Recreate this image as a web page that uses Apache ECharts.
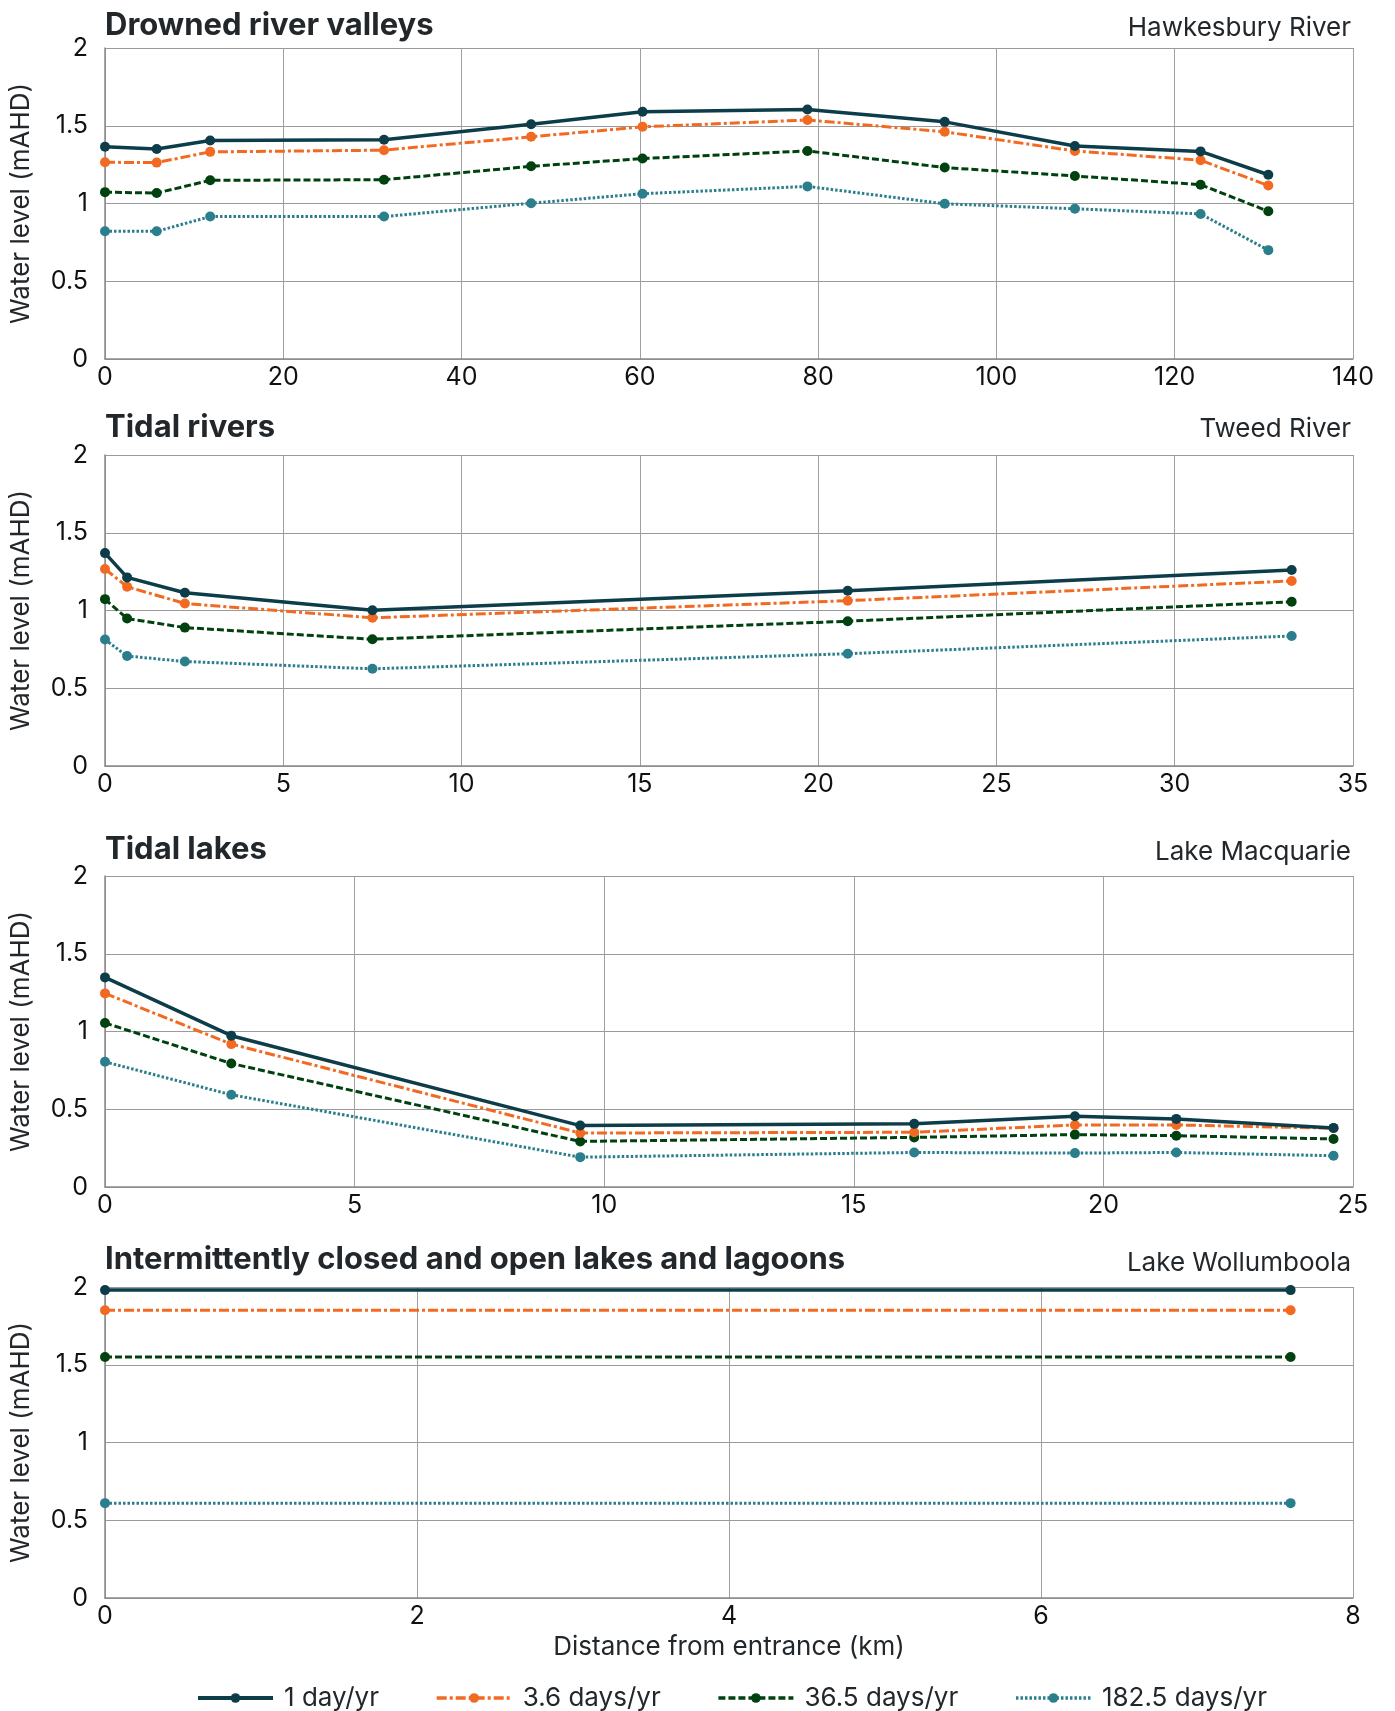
<!DOCTYPE html>
<html><head><meta charset="utf-8">
<script src="https://cdn.jsdelivr.net/npm/echarts@6/dist/echarts.min.js"></script>
<style>html,body{margin:0;padding:0;background:#fff}#c{width:1395px;height:1711px}</style>
</head><body><div id="c"></div>
<script>
const seriesNames = ['1 day/yr', '3.6 days/yr', '36.5 days/yr', '182.5 days/yr'];
const panelTitles = ['Drowned river valleys', 'Tidal rivers', 'Tidal lakes', 'Intermittently closed and open lakes and lagoons'];
const panelSites = ['Hawkesbury River', 'Tweed River', 'Lake Macquarie', 'Lake Wollumboola'];
const xMax = [140, 35, 25, 8];
const xInterval = [20, 5, 5, 2];

// Drowned river valleys - Hawkesbury River
const hawkX = [0, 5.8, 11.8, 31.3, 47.8, 60.3, 78.8, 94.2, 108.8, 122.9, 130.5];
const hawk1 = [1.365, 1.35, 1.405, 1.41, 1.51, 1.59, 1.605, 1.525, 1.37, 1.335, 1.185];
const hawk36 = [1.265, 1.263, 1.332, 1.343, 1.429, 1.493, 1.537, 1.461, 1.338, 1.278, 1.116];
const hawk365 = [1.073, 1.067, 1.149, 1.153, 1.239, 1.289, 1.338, 1.231, 1.177, 1.121, 0.95];
const hawk1825 = [0.821, 0.821, 0.916, 0.916, 1.002, 1.063, 1.11, 0.998, 0.966, 0.933, 0.70];

// Tidal rivers - Tweed River
const tweedX = [0, 0.62, 2.24, 7.5, 20.83, 33.28];
const tweed1 = [1.369, 1.213, 1.114, 1.002, 1.127, 1.261];
const tweed36 = [1.267, 1.153, 1.045, 0.953, 1.063, 1.19];
const tweed365 = [1.073, 0.948, 0.89, 0.815, 0.931, 1.056];
const tweed1825 = [0.813, 0.707, 0.672, 0.625, 0.722, 0.836];

// Tidal lakes - Lake Macquarie
const macqX = [0, 2.53, 9.52, 16.21, 19.43, 21.46, 24.61];
const macq1 = [1.348, 0.973, 0.395, 0.406, 0.455, 0.438, 0.38];
const macq36 = [1.245, 0.919, 0.347, 0.352, 0.399, 0.399, 0.378];
const macq365 = [1.055, 0.794, 0.293, 0.319, 0.337, 0.33, 0.309];
const macq1825 = [0.805, 0.593, 0.192, 0.222, 0.218, 0.222, 0.201];

// ICOLL - Lake Wollumboola
const wollX = [0, 7.6];
const woll1 = [1.98, 1.98];
const woll36 = [1.85, 1.85];
const woll365 = [1.55, 1.55];
const woll1825 = [0.61, 0.61];

const yTicks = [0, 0.5, 1, 1.5, 2];

const panels = [
  {x: hawkX, ys: [hawk1, hawk36, hawk365, hawk1825]},
  {x: tweedX, ys: [tweed1, tweed36, tweed365, tweed1825]},
  {x: macqX, ys: [macq1, macq36, macq365, macq1825]},
  {x: wollX, ys: [woll1, woll36, woll365, woll1825]}
];

const colors = ['#0c3d49', '#f26a22', '#00420f', '#2b7f8c'];
const lineTypes = ['solid', [10, 3, 3, 3], [7, 3], [2.5, 2]];
const lineWidths = [3.5, 3, 3, 3];
const FONT = 'Inter';
const tops = [48, 455, 876, 1287];
const titleOff = [38, 43, 42, 43];
const siteOff = [33, 39, 37, 37];
const H = 311;

const grids = [], xAxes = [], yAxes = [], series = [], graphics = [];
panels.forEach((p, i) => {
  grids.push({left: 104, right: 42, top: tops[i], height: H});
  xAxes.push({
    type: 'value', gridIndex: i, min: 0, max: xMax[i], interval: xInterval[i],
    axisLine: {show: true, lineStyle: {color: '#8a8a8a', width: 1.5}},
    axisTick: {show: false},
    splitLine: {show: true, lineStyle: {color: '#a0a0a0', width: 1}},
    axisLabel: {color: '#111', fontFamily: FONT, fontSize: 25, margin: 6},
    name: i === 3 ? 'Distance from entrance (km)' : '',
    nameLocation: 'middle', nameGap: 36,
    nameTextStyle: {color: '#22272b', fontFamily: FONT, fontSize: 26}
  });
  yAxes.push({
    type: 'value', gridIndex: i, min: 0, max: 2, interval: 0.5,
    axisLine: {show: true, lineStyle: {color: '#8a8a8a', width: 1.5}},
    axisTick: {show: false},
    splitLine: {show: true, lineStyle: {color: '#9a9a9a', width: 1}},
    axisLabel: {color: '#111', fontFamily: FONT, fontSize: 25, margin: 17,
      formatter: v => String(v)},
    name: 'Water level (mAHD)', nameLocation: 'middle', nameGap: 71,
    nameTextStyle: {color: '#22272b', fontFamily: FONT, fontSize: 26}
  });
  p.ys.forEach((vals, s) => {
    series.push({
      type: 'line', name: seriesNames[s], xAxisIndex: i, yAxisIndex: i,
      data: p.x.map((xv, k) => [xv, vals[k]]),
      symbol: 'circle', symbolSize: 10,
      itemStyle: {color: colors[s]},
      lineStyle: {color: colors[s], width: lineWidths[s], type: lineTypes[s]},
      emphasis: {disabled: true}, animation: false, z: 10 - s
    });
  });
  graphics.push({
    type: 'text', left: 105, top: tops[i] - titleOff[i],
    style: {text: panelTitles[i], font: 'bold 31px ' + FONT, fill: '#22272b'}
  });
  graphics.push({
    type: 'text', right: 44, top: tops[i] - siteOff[i],
    style: {text: panelSites[i], font: '26px ' + FONT, fill: '#22272b', textAlign: 'right'}
  });
});

const chart = echarts.init(document.getElementById('c'), null, {renderer: 'canvas'});
chart.setOption({
  animation: false,
  grid: grids, xAxis: xAxes, yAxis: yAxes, series: series,
  graphic: graphics,
  legend: {
    data: seriesNames.map((n, s) => ({name: n, lineStyle: {width: s === 0 ? 4 : 3.5}})),
    left: 191, top: 1680, itemWidth: 75, itemHeight: 12, itemGap: 56,
    textStyle: {color: '#22272b', fontFamily: FONT, fontSize: 26, padding: [0, 0, 0, 6]}
  }
});
</script></body></html>
